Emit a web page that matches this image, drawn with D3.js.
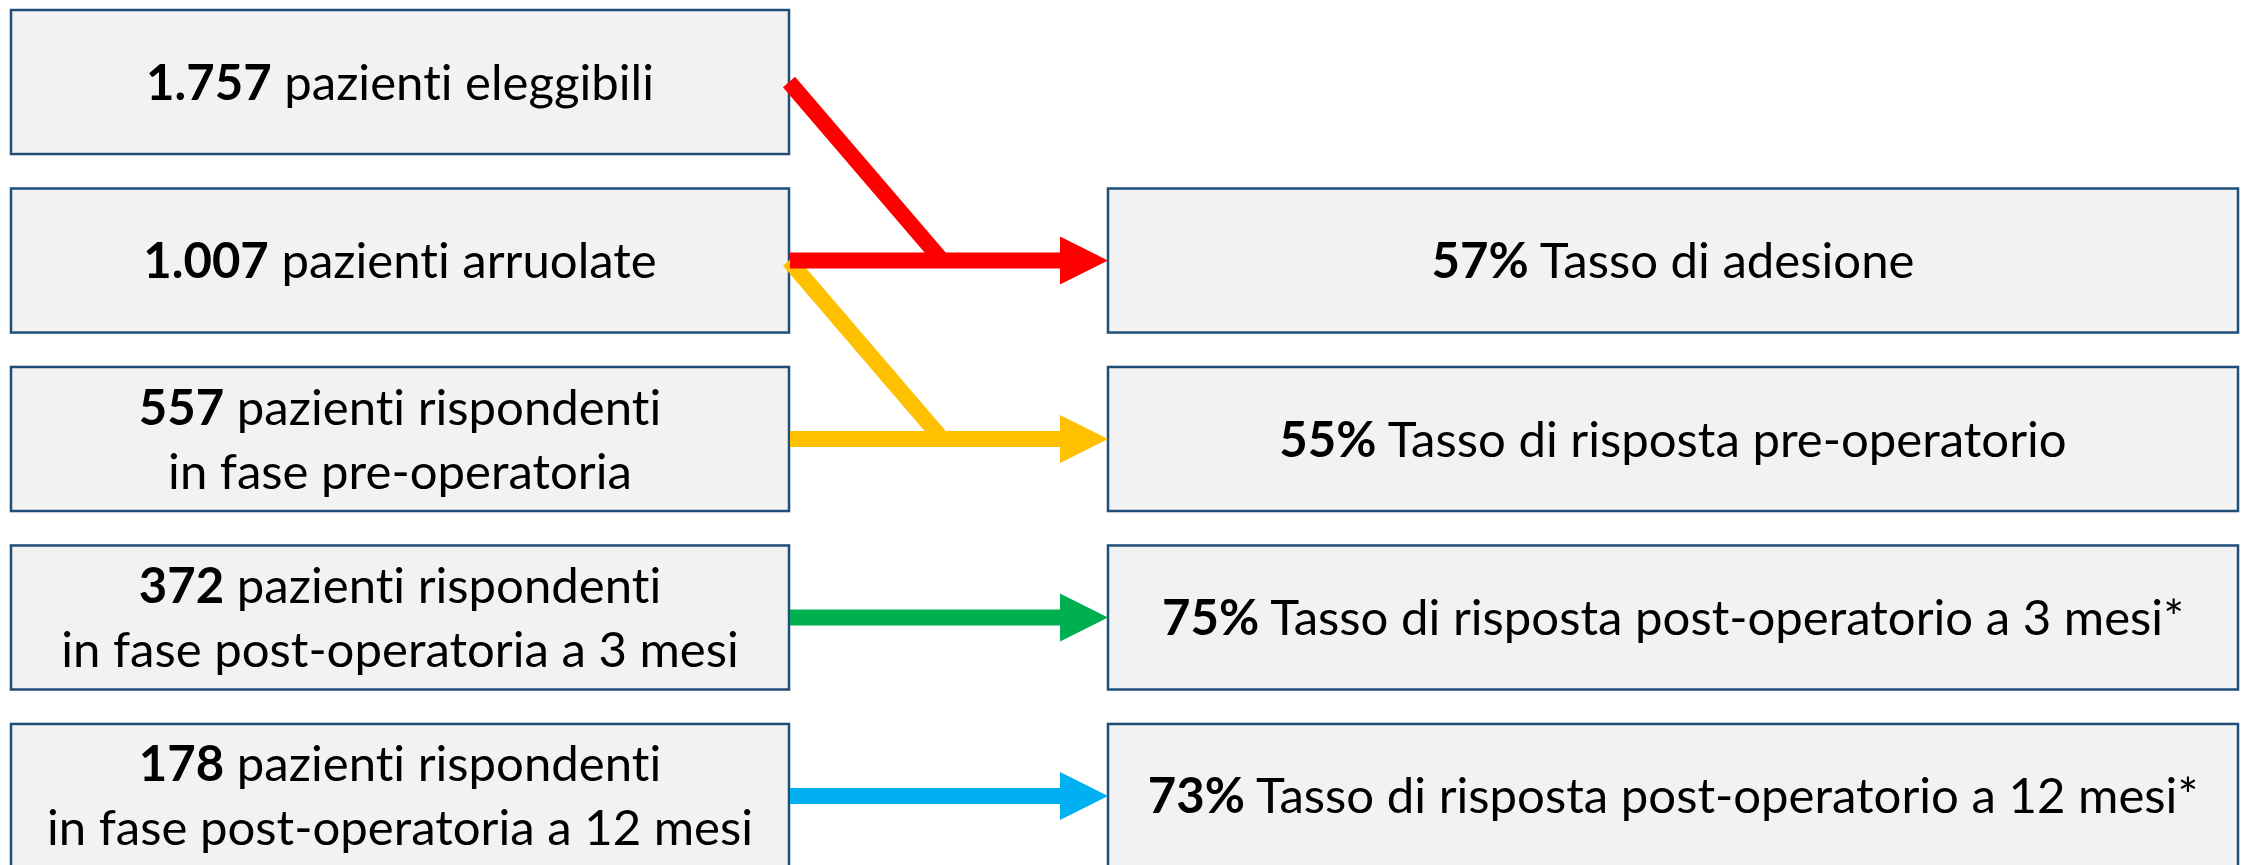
<!DOCTYPE html>
<html>
<head>
<meta charset="utf-8">
<script src="https://cdn.jsdelivr.net/npm/d3@7"></script>
<style>
  body { margin: 0; background: #fff; }
  svg { display: block; }
  text { font-variant-ligatures: none; font-feature-settings: "liga" 0, "clig" 0; }
</style>
</head>
<body>
<div id="chart"></div>
<script>
// left column: counts + labels (one entry per row)
var leftCounts = ['1.757', '1.007', '557', '372', '178'];
var leftLine1 = [' pazienti eleggibili', ' pazienti arruolate', ' pazienti rispondenti', ' pazienti rispondenti', ' pazienti rispondenti'];
var leftLine2 = ['', '', 'in fase pre-operatoria', 'in fase post-operatoria a 3 mesi', 'in fase post-operatoria a 12 mesi'];

// right column: rows 1..4
var rightRows = [1, 2, 3, 4];
var rightPct = ['57%', '55%', '75%', '73%'];
var rightLabels = [' Tasso di adesione', ' Tasso di risposta pre-operatorio', ' Tasso di risposta post-operatorio a 3 mesi*', ' Tasso di risposta post-operatorio a 12 mesi*'];

// arrows: horizontal ones (row -> right box) and the diagonals feeding them
var arrowRows = [1, 2, 3, 4];
var arrowColors = ['#ff0000', '#ffc000', '#00b050', '#00b0f0'];
var diagFrom = [0, 1];
var diagTo = [1, 2];
var diagColors = ['#ff0000', '#ffc000'];

var W = 2242, H = 865;
var svg = d3.select('#chart').append('svg')
	.attr('width', W)
	.attr('height', H);

var y = d3.scaleBand()
	.domain(d3.range(5))
	.range([10, 868])
	.paddingInner(0.193)
	.paddingOuter(0);

var xLeft = [11, 789];
var xRight = [1108, 2238];
var joinX = 942;
var headLen = 48, headHalf = 24, lineW = 16;

var font = 'Lato, "Open Sans", sans-serif';
var fontSize = 49;
var capH = 35;

function boxG(x0, x1, row) {
	var g = svg.append('g');
	g.append('rect')
		.attr('x', x0)
		.attr('y', y(row))
		.attr('width', x1 - x0)
		.attr('height', y.bandwidth())
		.style('fill', '#f2f2f2')
		.attr('stroke', '#1f4e79')
		.attr('stroke-width', 2.5);
	return g;
}

function addLine(g, cx, baseY, bold, rest) {
	var t = g.append('text')
		.attr('text-anchor', 'middle')
		.attr('font-family', font)
		.attr('font-size', fontSize)
		.attr('fill', '#000')
		.attr('transform', 'translate(' + cx + ',' + baseY + ')');
	if (bold) t.append('tspan').attr('font-weight', 700).text(bold);
	t.append('tspan').text(rest);
	return t;
}

var texts = [];
var lineGap = 64;

// left boxes
leftCounts.forEach(function(c, i) {
	var g = boxG(xLeft[0], xLeft[1], i);
	var cx = (xLeft[0] + xLeft[1]) / 2;
	var cy = y(i) + y.bandwidth() / 2;
	if (leftLine2[i]) {
		var b1 = cy + capH / 2 - lineGap / 2;
		texts.push(addLine(g, cx, b1, c, leftLine1[i]));
		texts.push(addLine(g, cx, b1 + lineGap, '', leftLine2[i]));
	} else {
		texts.push(addLine(g, cx, cy + capH / 2, c, leftLine1[i]));
	}
});

// right boxes
rightRows.forEach(function(r, i) {
	var g = boxG(xRight[0], xRight[1], r);
	var cx = (xRight[0] + xRight[1]) / 2;
	var cy = y(r) + y.bandwidth() / 2;
	texts.push(addLine(g, cx, cy + capH / 2, rightPct[i], rightLabels[i]));
});

// squeeze text to match the narrow reference font
var refW = texts[0].node().getComputedTextLength();
var sx = 508 / refW;
texts.forEach(function(t) {
	t.attr('transform', t.attr('transform') + ' scale(' + sx + ',1)');
});

// diagonal connectors
var arrowG = svg.append('g');
diagFrom.forEach(function(f, i) {
	var y0 = y(f) + y.bandwidth() / 2;
	var y1 = y(diagTo[i]) + y.bandwidth() / 2;
	arrowG.append('line')
		.attr('x1', xLeft[1])
		.attr('y1', y0)
		.attr('x2', joinX)
		.attr('y2', y1)
		.attr('stroke', diagColors[i])
		.attr('stroke-width', lineW)
		.attr('stroke-linecap', 'butt');
});

// horizontal arrows
arrowRows.forEach(function(r, i) {
	var cy = y(r) + y.bandwidth() / 2;
	var tip = xRight[0];
	arrowG.append('line')
		.attr('x1', xLeft[1] + 1)
		.attr('y1', cy)
		.attr('x2', tip - headLen + 1)
		.attr('y2', cy)
		.attr('stroke', arrowColors[i])
		.attr('stroke-width', lineW);
	arrowG.append('path')
		.attr('d', 'M' + (tip - headLen) + ',' + (cy - headHalf) +
			'L' + tip + ',' + cy +
			'L' + (tip - headLen) + ',' + (cy + headHalf) + 'Z')
		.style('fill', arrowColors[i]);
});
</script>
</body>
</html>
